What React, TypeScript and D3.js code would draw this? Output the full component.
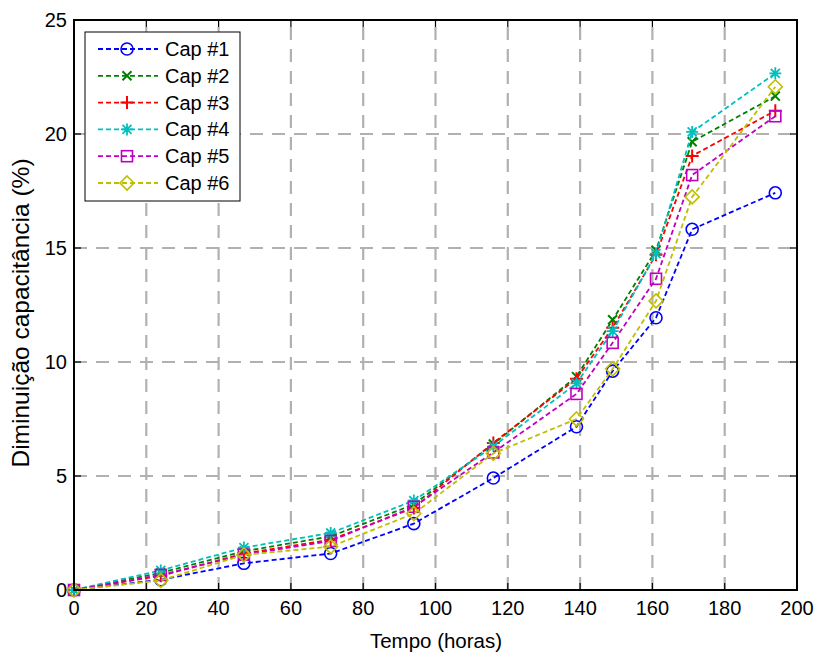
import React, { useEffect, useRef } from "react";
import * as d3 from "d3";

const hours = [0, 24, 47, 71, 94, 116, 139, 149, 161, 171, 194];
const cap1 = [0, 0.45, 1.17, 1.6, 2.91, 4.91, 7.16, 9.6, 11.94, 15.82, 17.42];
const cap2 = [0, 0.75, 1.7, 2.35, 3.75, 6.4, 9.36, 11.85, 14.9, 19.66, 21.66];
const cap3 = [0, 0.62, 1.6, 2.2, 3.6, 6.45, 9.27, 11.5, 14.7, 19.04, 21.02];
const cap4 = [0, 0.86, 1.86, 2.5, 3.92, 6.3, 9.06, 11.35, 14.75, 20.09, 22.66];
const cap5 = [0, 0.66, 1.55, 2.15, 3.65, 6.03, 8.6, 10.84, 13.65, 18.2, 20.78];
const cap6 = [0, 0.42, 1.54, 1.9, 3.35, 5.99, 7.5, 9.7, 12.68, 17.24, 22.07];
const seriesNames = ["Cap #1", "Cap #2", "Cap #3", "Cap #4", "Cap #5", "Cap #6"];
const seriesValues = [cap1, cap2, cap3, cap4, cap5, cap6];
const seriesColors = ["#0000ff", "#008000", "#ff0000", "#00bfbf", "#bf00bf", "#bfbf00"];
const seriesMarkers = ["circle", "x", "plus", "star", "square", "diamond"];
const xTicks = [0, 20, 40, 60, 80, 100, 120, 140, 160, 180, 200];
const yTicks = [0, 5, 10, 15, 20, 25];
const xLabel = "Tempo (horas)";
const yLabel = "Diminuição capacitância (%)";

const W = 814, H = 654;
const M = { left: 74, right: 797, top: 20, bottom: 590 };
const FONT = "Liberation Sans, Arial, Helvetica, sans-serif";

function drawMarker(g: any, type: string, cx: number, cy: number, color: string) {
  const sw = 1.6;
  if (type === "circle") {
    g.append("circle").attr("cx", cx).attr("cy", cy).attr("r", 6)
      .attr("fill", "none").attr("stroke", color).attr("stroke-width", sw);
  } else if (type === "square") {
    g.append("rect").attr("x", cx - 5.5).attr("y", cy - 5.5).attr("width", 11).attr("height", 11)
      .attr("fill", "none").attr("stroke", color).attr("stroke-width", sw);
  } else if (type === "diamond") {
    g.append("path").attr("d", `M${cx},${cy - 7}L${cx + 7},${cy}L${cx},${cy + 7}L${cx - 7},${cy}Z`)
      .attr("fill", "none").attr("stroke", color).attr("stroke-width", sw);
  } else if (type === "x") {
    const s = 4.5;
    g.append("path").attr("d", `M${cx - s},${cy - s}L${cx + s},${cy + s}M${cx - s},${cy + s}L${cx + s},${cy - s}`)
      .attr("stroke", color).attr("stroke-width", 2);
  } else if (type === "plus") {
    const s = 6.5;
    g.append("path").attr("d", `M${cx - s},${cy}L${cx + s},${cy}M${cx},${cy - s}L${cx},${cy + s}`)
      .attr("stroke", color).attr("stroke-width", 2);
  } else if (type === "star") {
    const s = 6, d = 4.5;
    g.append("path").attr("d", `M${cx - s},${cy}L${cx + s},${cy}M${cx},${cy - s}L${cx},${cy + s}M${cx - d},${cy - d}L${cx + d},${cy + d}M${cx - d},${cy + d}L${cx + d},${cy - d}`)
      .attr("stroke", color).attr("stroke-width", 1.8);
  }
}

export default function App() {
  const ref = useRef<SVGSVGElement>(null);
  useEffect(() => {
    const svg = d3.select(ref.current);
    svg.selectAll("*").remove();
    const x = d3.scaleLinear().domain([0, 200]).range([M.left, M.right]);
    const y = d3.scaleLinear().domain([0, 25]).range([M.bottom, M.top]);

    svg.append("rect").attr("x", M.left).attr("y", M.top).attr("width", M.right - M.left)
      .attr("height", M.bottom - M.top).attr("fill", "#fff");

    // grid
    const grid = svg.append("g").attr("stroke", "#b3b0b0").attr("stroke-width", 2.2)
      .attr("stroke-dasharray", "13,9");
    xTicks.slice(1, -1).forEach((t) => {
      grid.append("line").attr("x1", x(t)).attr("x2", x(t)).attr("y1", M.bottom).attr("y2", M.top);
    });
    yTicks.slice(1, -1).forEach((t) => {
      grid.append("line").attr("x1", M.left).attr("x2", M.right).attr("y1", y(t)).attr("y2", y(t));
    });

    // ticks inward
    const tk = svg.append("g").attr("stroke", "#000").attr("stroke-width", 1.2);
    xTicks.forEach((t) => {
      tk.append("line").attr("x1", x(t)).attr("x2", x(t)).attr("y1", M.bottom).attr("y2", M.bottom - 7);
      tk.append("line").attr("x1", x(t)).attr("x2", x(t)).attr("y1", M.top).attr("y2", M.top + 7);
    });
    yTicks.forEach((t) => {
      tk.append("line").attr("x1", M.left).attr("x2", M.left + 7).attr("y1", y(t)).attr("y2", y(t));
      tk.append("line").attr("x1", M.right).attr("x2", M.right - 7).attr("y1", y(t)).attr("y2", y(t));
    });

    // series
    const line = d3.line<number>().x((_, i) => x(hours[i])).y((v) => y(v));
    seriesValues.forEach((vals, si) => {
      const g = svg.append("g");
      g.append("path").attr("d", line(vals)).attr("fill", "none")
        .attr("stroke", seriesColors[si]).attr("stroke-width", 1.8).attr("stroke-dasharray", "5,3");
      vals.forEach((v, i) => drawMarker(g, seriesMarkers[si], x(hours[i]), y(v), seriesColors[si]));
    });

    // box
    svg.append("rect").attr("x", M.left).attr("y", M.top).attr("width", M.right - M.left)
      .attr("height", M.bottom - M.top).attr("fill", "none").attr("stroke", "#000").attr("stroke-width", 2);

    // tick labels
    xTicks.forEach((t) => {
      svg.append("text").attr("x", x(t)).attr("y", M.bottom + 25).attr("text-anchor", "middle")
        .attr("font-family", FONT).attr("font-size", 20).text(String(t));
    });
    yTicks.forEach((t) => {
      svg.append("text").attr("x", M.left - 7).attr("y", y(t) + 7).attr("text-anchor", "end")
        .attr("font-family", FONT).attr("font-size", 20).text(String(t));
    });

    svg.append("text").attr("x", 436).attr("y", 648).attr("text-anchor", "middle")
      .attr("font-family", FONT).attr("font-size", 20.5).text(xLabel);
    svg.append("text").attr("transform", `translate(29,${(M.top + M.bottom) / 2 + 8}) rotate(-90)`)
      .attr("text-anchor", "middle").attr("font-family", FONT).attr("font-size", 24.5).text(yLabel);

    // legend
    const lg = svg.append("g");
    lg.append("rect").attr("x", 85).attr("y", 32).attr("width", 155).attr("height", 169)
      .attr("fill", "#fff").attr("stroke", "#000").attr("stroke-width", 1);
    seriesNames.forEach((name, i) => {
      const cy = 49 + i * 26.8;
      lg.append("line").attr("x1", 98).attr("x2", 158).attr("y1", cy).attr("y2", cy)
        .attr("stroke", seriesColors[i]).attr("stroke-width", 1.8).attr("stroke-dasharray", "5,3");
      drawMarker(lg, seriesMarkers[i], 127, cy, seriesColors[i]);
      lg.append("text").attr("x", 165).attr("y", cy + 7).attr("font-family", FONT)
        .attr("font-size", 20).text(name);
    });
  }, []);
  return (
    <svg ref={ref} width={W} height={H} style={{ position: "absolute", left: 0, top: 0, background: "#fff" }} />
  );
}
